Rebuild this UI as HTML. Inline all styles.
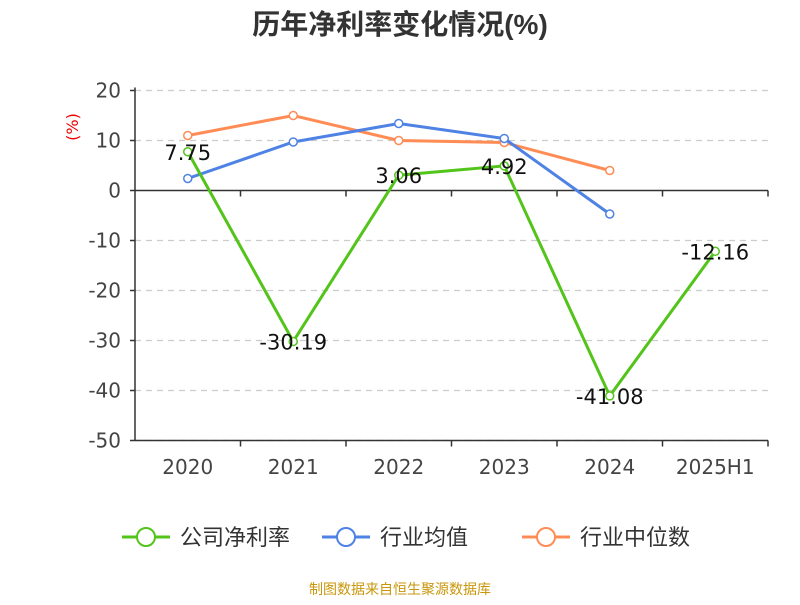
<!DOCTYPE html>
<html><head><meta charset="utf-8"><style>
body{margin:0;background:#fff;}
svg text{font-family:"DejaVu Sans","Noto Sans CJK SC",sans-serif;}
</style></head><body>
<svg id="c" width="800" height="600" xmlns="http://www.w3.org/2000/svg">
<text x="400" y="34" text-anchor="middle" font-size="28" font-weight="bold" fill="#333" style="font-family:'Liberation Sans','Noto Sans CJK SC',sans-serif">历年净利率变化情况(%)</text>
<text transform="translate(78,127) rotate(-90)" text-anchor="middle" font-size="16" fill="#e00">(%)</text>
<g id="grid"></g><g id="axes"></g><g id="series"></g><g id="labels"></g>
<g id="legend"></g>
<text x="400" y="594" text-anchor="middle" font-size="14" fill="#c8960a">制图数据来自恒生聚源数据库</text>
</svg>
<script>
const categories=["2020","2021","2022","2023","2024","2025H1"];
const yTicks=[20,10,0,-10,-20,-30,-40,-50];
const netMargin=[7.75,-30.19,3.06,4.92,-41.08,-12.16];
const industryAvg=[2.4,9.7,13.4,10.4,-4.7,null];
const industryMedian=[11.0,15.0,10.0,9.6,4.0,null];
const seriesNames=["公司净利率","行业均值","行业中位数"];
const colors=["#52c41a","#4e82e4","#ff8c55"];
const NS="http://www.w3.org/2000/svg";
const L=135,R=768,T=90.5,B=440.5,yMax=20,yMin=-50;
const bw=(R-L)/categories.length;
const X=i=>L+bw*(i+0.5);
const Y=v=>T+(yMax-v)/(yMax-yMin)*(B-T);
function mk(tag,attrs,parent){const e=document.createElementNS(NS,tag);for(const k in attrs)e.setAttribute(k,attrs[k]);document.getElementById(parent).appendChild(e);return e;}
yTicks.forEach(v=>{
 if(v!==0){const g=mk('line',{x1:L,x2:R,y1:Y(v),y2:Y(v),stroke:'#ccc','stroke-dasharray':'6,5','stroke-width':1.2},'grid');
 }
 const tk=mk('line',{x1:L-5,x2:L,y1:Y(v),y2:Y(v),stroke:'#333','stroke-width':1.5},'axes');
 
 const t=mk('text',{x:L-14,y:Y(v)+7,'text-anchor':'end','font-size':20,fill:'#444'},'axes');t.textContent=v;
 
});
let a=mk('line',{x1:L,x2:L,y1:T-3,y2:B,stroke:'#333','stroke-width':1.5},'axes');

a=mk('line',{x1:L,x2:R,y1:Y(0),y2:Y(0),stroke:'#333','stroke-width':1.5},'axes');

a=mk('line',{x1:L,x2:R,y1:B,y2:B,stroke:'#333','stroke-width':1.5},'axes');

categories.forEach((c,i)=>{
 for(const yy of [Y(0),B]){const tk=mk('line',{x1:L+bw*(i+1),x2:L+bw*(i+1),y1:yy,y2:yy+6,stroke:'#333','stroke-width':1.5},'axes');
 }
 const t=mk('text',{x:X(i),y:474,'text-anchor':'middle','font-size':20,fill:'#444'},'axes');t.textContent=c;
 
});
[industryMedian,industryAvg,netMargin].forEach((data,k0)=>{
 const k=[2,1,0][k0];
 let d='';data.forEach((v,i)=>{if(v!==null)d+=(d?'L':'M')+X(i)+','+Y(v);});
 const p=mk('path',{d:d,fill:'none',stroke:colors[k],'stroke-width':3},'series');
 
 
 data.forEach((v,i)=>{if(v===null)return;
  const c=mk('circle',{cx:X(i),cy:Y(v),r:4,fill:'#fff',stroke:colors[k],'stroke-width':1.5},'series');
  });
});
netMargin.forEach((v,i)=>{
 const t=mk('text',{x:X(i),y:Y(v)+8,'text-anchor':'middle','font-size':21,fill:'#111'},'labels');
 t.textContent=v.toFixed(2);
 
});
const lx=[122,322,522];
seriesNames.forEach((n,k)=>{
 const g=mk('g',{},'legend');
 
 const l=document.createElementNS(NS,'line');
 [['x1',lx[k]],['x2',lx[k]+48],['y1',537],['y2',537],['stroke',colors[k]],['stroke-width',3]].forEach(a=>l.setAttribute(a[0],a[1]));g.appendChild(l);
 const c=document.createElementNS(NS,'circle');
 [['cx',lx[k]+24],['cy',537],['r',9],['fill','#fff'],['stroke',colors[k]],['stroke-width',2]].forEach(a=>c.setAttribute(a[0],a[1]));g.appendChild(c);
 const t=document.createElementNS(NS,'text');
 [['x',lx[k]+58],['y',545],['font-size',22],['fill','#333']].forEach(a=>t.setAttribute(a[0],a[1]));t.textContent=n;g.appendChild(t);
});
</script>
</body></html>
